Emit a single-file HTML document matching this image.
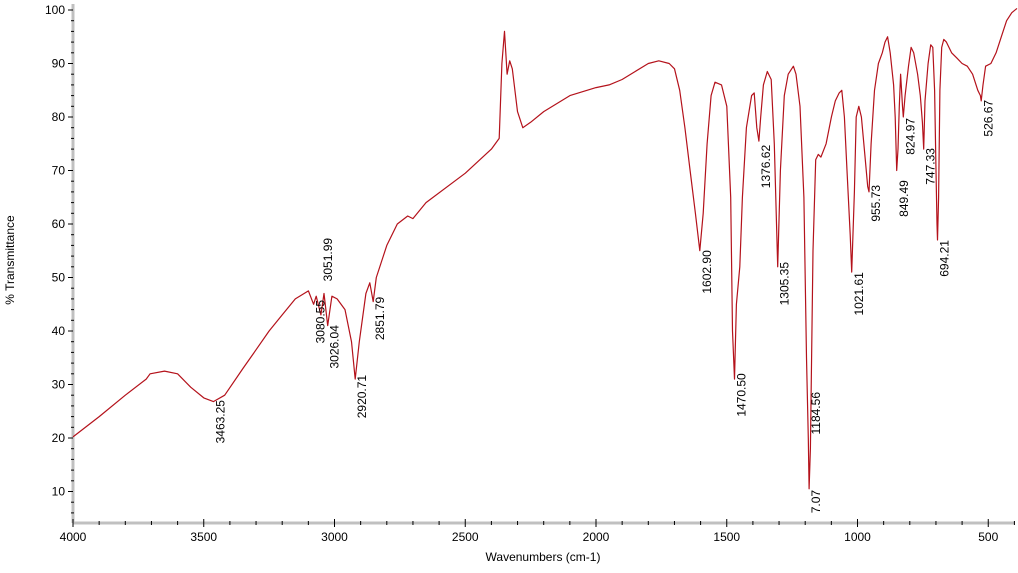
<!DOCTYPE html>
<html><head><meta charset="utf-8"><style>
html,body{margin:0;padding:0;background:#fff;}
svg{display:block;font-family:"Liberation Sans",sans-serif;}
</style></head><body>
<svg id="chart" width="1018" height="573" viewBox="0 0 1018 573">
<g id="axes"></g>
<g id="plot"></g>
<g id="labels"></g>
<text x="14" y="260" font-size="12" text-anchor="middle" transform="rotate(-90 14 260)">% Transmittance</text>
<text x="543" y="561" font-size="12" text-anchor="middle">Wavenumbers (cm-1)</text>
</svg>
<script>
const wavenumbers=[4000,3900,3800,3720,3705,3650,3600,3550,3500,3463,3420,3350,3300,3250,3200,3150,3100,3080,3070,3052,3040,3026,3010,2990,2960,2935,2921,2905,2880,2865,2852,2840,2800,2760,2720,2700,2650,2500,2400,2370,2360,2350,2340,2330,2320,2300,2280,2250,2200,2100,2000,1950,1900,1850,1800,1760,1720,1700,1680,1660,1640,1620,1603,1590,1575,1560,1545,1520,1500,1485,1478,1470.5,1463,1450,1440,1425,1405,1395,1385,1377,1370,1360,1345,1330,1318,1305,1295,1280,1265,1245,1235,1220,1205,1195,1188,1185,1180,1170,1160,1150,1140,1120,1100,1085,1070,1060,1050,1040,1028,1022,1012,1005,995,985,970,961,956,948,935,920,905,895,885,875,862,856,850,845,840,835,828,825,818,805,795,785,770,760,752,747,742,730,720,712,705,700,696,694,690,685,678,670,660,640,620,600,580,560,540,530,527,520,510,490,470,450,430,410,390];
const transmittance=[20.2,24,28,31,32,32.5,32,29.5,27.5,26.8,28,33,36.5,40,43,46,47.5,45,46.5,43,47,41,46.5,46,44,38,31,38,47,49,45.5,50,56,60,61.5,61,64,69.5,74,76,90,96,88,90.5,89,81,78,79,81,84,85.5,86,87,88.5,90,90.5,90,89,85,78,70,62,55,62,75,84,86.5,86,82,65,40,31,45,52,65,78,84,84.5,78,75.5,80,86,88.5,87,75,52,70,84,88,89.5,88,82,65,35,20,10.5,18,55,72,73,72.5,75,80,83,84.5,85,80,70,58,51,66,80,82,80,72,67,66,75,85,90,92,94,95,92,86,80,70,74,82,88,82,80,84,89.5,93,92,88,84,79,74,83,90,93.5,93,85,70,60,57,65,85,93,94.5,94,92,91,90,89.5,88,85,84,83,86,89.5,90,92,95,98,99.5,100.3];
const peakWavenumbers=[3463.25,3080.55,3051.99,3026.04,2920.71,2851.79,1602.90,1470.50,1376.62,1305.35,1184.56,1184.56,1021.61,955.73,849.49,824.97,747.33,694.21,526.67];
const peakLabels=["3463.25","3080.55","3051.99","3026.04","2920.71","2851.79","1602.90","1470.50","1376.62","1305.35","1184.56","7.07","1021.61","955.73","849.49","824.97","747.33","694.21","526.67"];
const peakLabelTop=[27.1,45.8,57.4,41.1,31.8,46.4,55.1,32.1,74.8,52.9,28.6,10.3,51,67.3,68.2,79.8,74.2,57,83.2];
const xTicks=[4000,3500,3000,2500,2000,1500,1000,500];
const yTicks=[10,20,30,40,50,60,70,80,90,100];

const NS="http://www.w3.org/2000/svg";
const X0=73,Y0=523;
function xs(w){return 73+(4000-w)*0.2615;}
function ys(t){return 10+(100-t)*5.35;}
function mk(tag,attrs,parent){const e=document.createElementNS(NS,tag);for(const k in attrs)e.setAttribute(k,attrs[k]);parent.appendChild(e);return e;}
const axes=document.getElementById('axes');
let a=mk('line',{x1:X0,y1:4,x2:X0,y2:Y0,stroke:'#c0c0c0','stroke-width':3},axes);


a=mk('line',{x1:X0,y1:Y0,x2:1015,y2:Y0,stroke:'#c0c0c0','stroke-width':3},axes);


for(let w=4000;w>=400;w-=100){const major=w%500===0;const t=mk('line',{x1:xs(w),y1:Y0-(major?4:2),x2:xs(w),y2:Y0+(major?4:2),stroke:'#000','stroke-width':1},axes);

}
xTicks.forEach(w=>{const t=mk('text',{x:xs(w),y:541,'font-size':12,'text-anchor':'middle'},axes);t.textContent=w;

});
for(let v=6;v<=100;v+=2){const major=v%10===0;const t=mk('line',{x1:X0-(major?5:2),y1:ys(v),x2:X0+(major?0:1),y2:ys(v),stroke:'#000','stroke-width':1},axes);

}
yTicks.forEach(v=>{const t=mk('text',{x:65,y:ys(v)+4,'font-size':12,'text-anchor':'end'},axes);t.textContent=v;

});
const plot=document.getElementById('plot');
const d=wavenumbers.map((w,i)=>(i?'L':'M')+xs(w).toFixed(1)+','+ys(transmittance[i]).toFixed(1)).join('');
const line=mk('path',{d:d,fill:'none',stroke:'#b4121b','stroke-width':1.2,'stroke-linejoin':'round'},plot);


const labels=document.getElementById('labels');
peakWavenumbers.forEach((w,i)=>{const x=xs(w)+11,y=ys(peakLabelTop[i]);const t=mk('text',{x:x,y:y,'font-size':12,'text-anchor':'end',transform:'rotate(-90 '+x+' '+y+')'},labels);t.textContent=peakLabels[i];

});
</script>
</body></html>
